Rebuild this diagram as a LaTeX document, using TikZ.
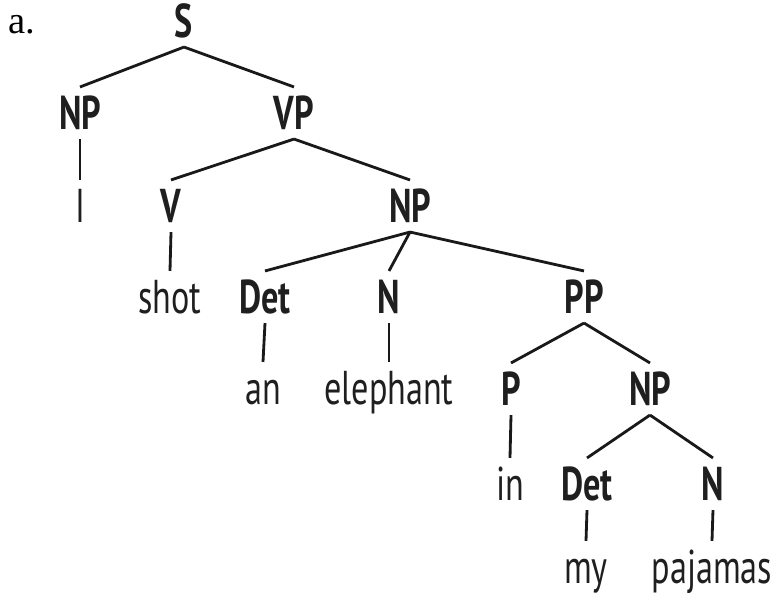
\documentclass[tikz,border=0pt]{standalone}
\usepackage{fontspec}
\setmainfont{Liberation Serif}
\newfontfamily\treefont[FakeStretch=0.72]{PT Sans}
\tikzset{
  tnode/.style={font=\treefont\fontsize{27}{30}\selectfont, text=black!88,
    text height=19pt, text depth=0pt, inner xsep=0pt, inner ysep=0.18cm},
  cat/.style={tnode, font=\treefont\fontsize{27}{30}\selectfont\bfseries},
  word/.style={tnode},
  branch/.style={line width=1.6pt, black!90}
}
\begin{document}
\begin{tikzpicture}[x=0.02cm, y=-0.02cm]
  \useasboundingbox (0,0) rectangle (778,600);
  \node[anchor=base, font=\fontsize{22}{24}\selectfont] (lbl) at (22,33) {a.};
  \draw
    (184,21) node[cat] (S){S}
    (80,113) node[cat] (NP1){NP}
    (294,113) node[cat] (VP){VP}
    (80,206) node[word] (I){I}
    (171,206) node[cat] (V){V}
    (410,206) node[cat] (NP2){NP}
    (170,297) node[word] (shot){shot}
    (265,297) node[cat] (Det1){Det}
    (389,297) node[cat] (N1){N}
    (584,297) node[cat] (PP){PP}
    (263,388) node[word] (an){an}
    (389,388) node[word] (eleph){elephant}
    (511,389) node[cat] (P){P}
    (650,389) node[cat] (NP3){NP}
    (510,484) node[word] (in){in}
    (587,484) node[cat] (Det2){Det}
    (713,484) node[cat] (N2){N}
    (586,567) node[word] (my){my}
    (712,567) node[word] (paj){pajamas};
  \begin{scope}[branch]
    \draw (S.south) to (NP1.north);
    \draw (S.south) to (VP.north);
    \draw (NP1.south) to (I.north);
    \draw (VP.south) to (V.north);
    \draw (VP.south) to (NP2.north);
    \draw (V.south) to (shot.north);
    \draw (NP2.south) to (Det1.north);
    \draw (NP2.south) to (N1.north);
    \draw (NP2.south) to (PP.north);
    \draw (Det1.south) to (an.north);
    \draw (N1.south) to (eleph.north);
    \draw (PP.south) to (P.north);
    \draw (PP.south) to (NP3.north);
    \draw (P.south) to (in.north);
    \draw (NP3.south) to (Det2.north);
    \draw (NP3.south) to (N2.north);
    \draw (Det2.south) to (my.north);
    \draw (N2.south) to (paj.north);
  \end{scope}
\end{tikzpicture}
\end{document}
